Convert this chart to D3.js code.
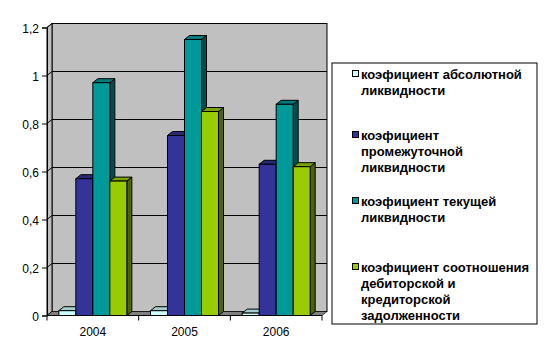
<!DOCTYPE html>
<html>
<head>
<meta charset="utf-8">
<script src="https://cdn.jsdelivr.net/npm/d3@7"></script>
<style>
  html, body { margin: 0; padding: 0; background: #fff; }
  svg { display: block; font-family: "Liberation Sans", Arial, sans-serif; }
</style>
</head>
<body>
<div id="chart"></div>
<script>
// --- data ---
const years = ['2004', '2005', '2006'];
const seriesKeys = ['abs', 'inter', 'current', 'ratio'];
const absValues = [0.02, 0.02, 0.01];
const interValues = [0.57, 0.75, 0.63];
const currentValues = [0.97, 1.15, 0.88];
const ratioValues = [0.56, 0.85, 0.62];
const yTicks = [0, 0.2, 0.4, 0.6, 0.8, 1, 1.2];
const legendLines = [
    ['коэфициент абсолютной', 'ликвидности'],
    ['коэфициент', 'промежуточной', 'ликвидности'],
    ['коэфициент текущей', 'ликвидности'],
    ['коэфициент соотношения', 'дебиторской и', 'кредиторской', 'задолженности']
];

// --- layout / style ---
const W = 552, H = 360;
const plot = { left: 47, right: 322, top: 27.5, bottom: 315.5 };
const depth = { dx: 5, dy: -4 };
const groupWidth = 68;
const colors = {
    abs: '#CCFFFF',
    inter: '#333399',
    current: '#009999',
    ratio: '#99CC00'
};
const legendBox = { x: 332, y: 63, w: 205, h: 261 };
const legendFirstLineY = [74, 135, 201, 267];
const lineStep = 16;

const valuesByKey = { abs: absValues, inter: interValues, current: currentValues, ratio: ratioValues };

const svg = d3.select('#chart').append('svg')
    .attr('width', W)
    .attr('height', H);

const x0 = d3.scaleBand().domain(years).range([plot.left, plot.right]);
const pad = (x0.bandwidth() - groupWidth) / 2;
const x1 = d3.scaleBand().domain(seriesKeys).range([pad, pad + groupWidth]);
const y = d3.scaleLinear().domain([0, 1.2]).range([plot.bottom, plot.top]);

const fmt = v => d3.format('~g')(v).replace('.', ',');

function shade(c, k) {
    const col = d3.rgb(c);
    return d3.rgb(col.r * k, col.g * k, col.b * k).formatHex();
}

const poly = pts => 'M' + pts.map(p => p.join(',')).join('L') + 'Z';

// back wall
svg.append('rect')
    .attr('x', plot.left + depth.dx)
    .attr('y', plot.top + depth.dy)
    .attr('width', plot.right - plot.left)
    .attr('height', plot.bottom - plot.top)
    .attr('fill', '#C0C0C0')
    .attr('stroke', '#000');

// left side wall
svg.append('path')
    .attr('d', poly([
        [plot.left, plot.top],
        [plot.left + depth.dx, plot.top + depth.dy],
        [plot.left + depth.dx, plot.bottom + depth.dy],
        [plot.left, plot.bottom]
    ]))
    .attr('fill', '#C0C0C0')
    .attr('stroke', '#000');

// gridlines on the walls
yTicks.forEach(t => {
    const yy = y(t);
    svg.append('path')
        .attr('d', `M${plot.left},${yy}L${plot.left + depth.dx},${yy + depth.dy}L${plot.right + depth.dx},${yy + depth.dy}`)
        .attr('fill', 'none')
        .attr('stroke', '#000');
});

// floor
svg.append('path')
    .attr('d', poly([
        [plot.left, plot.bottom],
        [plot.right, plot.bottom],
        [plot.right + depth.dx, plot.bottom + depth.dy],
        [plot.left + depth.dx, plot.bottom + depth.dy]
    ]))
    .attr('fill', '#808080')
    .attr('stroke', '#000')
    .attr('stroke-width', 0.6);

// bars, drawn left to right so the next front face hides the side
years.forEach((yr, i) => {
    seriesKeys.forEach(key => {
        const v = valuesByKey[key][i];
        const xl = x0(yr) + x1(key);
        const xr = xl + x1.bandwidth();
        const yt = y(v);
        const yb = y(0);
        const g = svg.append('g');
        // side face
        g.append('path')
            .attr('d', poly([[xr, yt], [xr + depth.dx, yt + depth.dy], [xr + depth.dx, yb + depth.dy], [xr, yb]]))
            .attr('fill', shade(colors[key], 0.5))
            .attr('stroke', '#000');
        // top face
        g.append('path')
            .attr('d', poly([[xl, yt], [xl + depth.dx, yt + depth.dy], [xr + depth.dx, yt + depth.dy], [xr, yt]]))
            .attr('fill', shade(colors[key], 0.8))
            .attr('stroke', '#000');
        // front face
        g.append('rect')
            .attr('x', xl)
            .attr('y', yt)
            .attr('width', xr - xl)
            .attr('height', yb - yt)
            .attr('fill', colors[key])
            .attr('stroke', '#000');
    });
});

// y axis
const yAxis = svg.append('g')
    .attr('transform', `translate(${plot.left},0)`)
    .call(d3.axisLeft(y).tickValues(yTicks).tickFormat(fmt).tickSize(5).tickPadding(3));
yAxis.select('.domain').attr('stroke', '#000');
yAxis.selectAll('text')
    .attr('font-size', 12)
    .attr('font-family', '"Liberation Sans", Arial, sans-serif')
    .attr('fill', '#000')
    .attr('dy', '0.45em');

// x axis
const xTickPos = [plot.left, ...years.map(yr => x0(yr) + x0.bandwidth())];
svg.append('line')
    .attr('x1', plot.left).attr('x2', plot.right)
    .attr('y1', plot.bottom).attr('y2', plot.bottom)
    .attr('stroke', '#000');
svg.selectAll('.xtick')
    .data(xTickPos)
    .enter()
    .append('line')
    .attr('x1', d => d).attr('x2', d => d)
    .attr('y1', plot.bottom).attr('y2', plot.bottom + 5)
    .attr('stroke', '#000');
svg.selectAll('.xlabel')
    .data(years)
    .enter()
    .append('text')
    .attr('x', d => x0(d) + x0.bandwidth() / 2)
    .attr('y', plot.bottom + 20)
    .attr('text-anchor', 'middle')
    .attr('font-size', 12)
    .attr('fill', '#000')
    .text(d => d);

// legend
svg.append('rect')
    .attr('x', legendBox.x)
    .attr('y', legendBox.y)
    .attr('width', legendBox.w)
    .attr('height', legendBox.h)
    .attr('fill', '#fff')
    .attr('stroke', '#000');

seriesKeys.forEach((key, i) => {
    const cy = legendFirstLineY[i];
    svg.append('rect')
        .attr('x', 352.5)
        .attr('y', cy - 3.5)
        .attr('width', 6)
        .attr('height', 6)
        .attr('fill', colors[key])
        .attr('stroke', '#000');
    const t = svg.append('text')
        .attr('font-size', 13)
        .attr('font-weight', 'bold')
        .attr('fill', '#000');
    legendLines[i].forEach((line, j) => {
        t.append('tspan')
            .attr('x', 361)
            .attr('y', cy + j * lineStep + 4.5)
            .text(line);
    });
});
</script>
</body>
</html>
